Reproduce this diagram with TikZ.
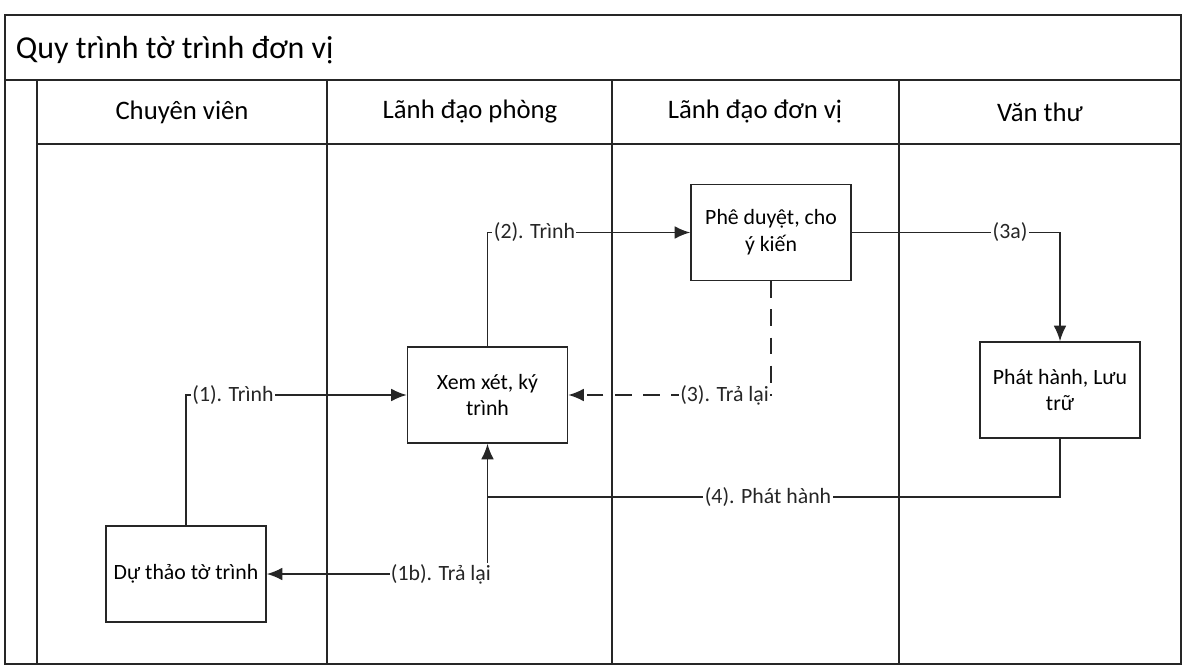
\documentclass[tikz,border=0pt]{standalone}
\usepackage{fontspec}
\setmainfont{Carlito}
\usepackage{tikz}
\usetikzlibrary{arrows.meta,positioning,calc}

\begin{document}
\begin{tikzpicture}[x=0.025cm,y=-0.025cm,
  lane/.style={line width=1.1pt,black!85},
  box/.style={draw=black!85,line width=1.1pt,minimum width=4cm,minimum height=2.4cm,
    align=center,inner sep=2pt,font=\fontsize{15.5}{19}\selectfont},
  lbl/.style={fill=white,inner sep=1pt,font=\fontsize{15.5}{19}\selectfont},
  flow/.style={line width=1.1pt,black!85,-{Latex[length=11pt,width=9pt]}},
  head/.style={font=\fontsize{19}{23}\selectfont}]
  \useasboundingbox (0,0) rectangle (1185,669);

  % Frame and title row
  \draw[lane,line width=1.4pt] (5,15) rectangle (1181,664);
  \draw[lane] (5,80) -- (1181,80);
  \node[anchor=west,font=\fontsize{22.7}{27}\selectfont] (title) at (11,50) {Quy trình tờ trình đơn vị};

  % Lanes
  \draw[lane] (37,80) -- (37,664);
  \draw[lane] (37,144) -- (1181,144);
  \foreach \x in {327,612,899}
    \draw[lane] (\x,80) -- (\x,664);
  \node[head] (h1) at (182,112) {Chuyên viên};
  \node[head] (h2) at (470,112) {Lãnh đạo phòng};
  \node[head] (h3) at (755,112) {Lãnh đạo đơn vị};
  \node[head] (h4) at (1040,112) {Văn thư};

  % Steps
  \node[box] (phe) at (771,232.5) {Phê duyệt, cho\\ý kiến};
  \node[box] (xem) at (487.5,395) {Xem xét, ký\\trình};
  \node[box] (phat) at (1060,390) {Phát hành, Lưu\\trữ};
  \node[box] (dutho) at (186,574) {Dự thảo tờ trình};

  % Flows
  \coordinate (jn) at (xem.south |- 0,497);
  \draw[flow] (dutho.north) |- node[lbl,pos=0.5,anchor=west,xshift=3pt] {(1). Trình} (xem.west);
  \draw[flow] (xem.north) |- node[lbl,pos=0.5,anchor=west,xshift=3pt] {(2). Trình} (phe.west);
  \draw[flow] (phe.east) -| node[lbl,pos=0.38] {(3a)} (phat.north);
  \draw[flow,dash pattern=on 12pt off 8pt] (phe.south) |- node[lbl,pos=0.5,anchor=east] {(3). Trả lại} (xem.east);
  \draw[flow] (phat.south) |- node[lbl,pos=0.755] {(4). Phát hành} (jn) -- (xem.south);
  \draw[flow] (jn) |- node[lbl,pos=0.5,anchor=east,xshift=4pt] {(1b). Trả lại} (dutho.east);
\end{tikzpicture}
\end{document}
